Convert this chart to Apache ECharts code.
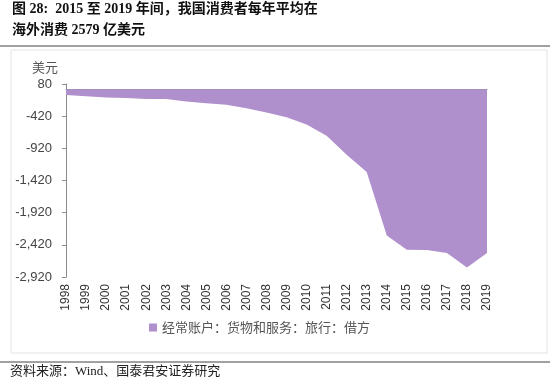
<!DOCTYPE html>
<html><head><meta charset="utf-8">
<script src="https://cdn.jsdelivr.net/npm/echarts@6/dist/echarts.min.js"></script>
<style>html,body{margin:0;padding:0;background:#fff}#c{width:550px;height:383px}</style>
</head><body><div id="c"></div>
<script>
var categories = ['1998','1999','2000','2001','2002','2003','2004','2005','2006','2007','2008','2009','2010','2011','2012','2013','2014','2015','2016','2017','2018','2019'];
var travelDebit = [-92,-109,-131,-139,-154,-152,-191,-218,-243,-298,-362,-437,-549,-726,-1020,-1286,-2273,-2498,-2500,-2548,-2773,-2546];
var seriesName = '经常账户：货物和服务：旅行：借方';
var yMin = -2920, yMax = 80, yStep = 500;

var chart = echarts.init(document.getElementById('c'));
var cjk = '"Liberation Serif","Noto Sans CJK SC",serif';
chart.setOption({
  animation: false,
  grid: {left: 66, right: 63, top: 84, bottom: 106},
  graphic: [
    {type: 'text', left: 12, top: 2, style: {text: '图 28:  2015 至 2019 年间，我国消费者每年平均在', font: 'bold 14px ' + cjk, fill: '#111'}},
    {type: 'text', left: 12, top: 23, style: {text: '海外消费 2579 亿美元', font: 'bold 14px ' + cjk, fill: '#111'}},
    {type: 'line', shape: {x1: 0, y1: 46, x2: 550, y2: 46}, style: {stroke: '#444', lineWidth: 1.2}},
    {type: 'rect', shape: {x: 11, y: 50, width: 536, height: 303}, style: {fill: 'none', stroke: '#e4e4e4', lineWidth: 1}},
    {type: 'line', shape: {x1: 0, y1: 362, x2: 550, y2: 362}, style: {stroke: '#444', lineWidth: 1}},
    {type: 'text', left: 10, top: 365, style: {text: '资料来源：Wind、国泰君安证券研究', font: '13px ' + cjk, fill: '#222'}}
  ],
  legend: {
    left: 144, top: 316, itemWidth: 8, itemHeight: 8, icon: 'rect', itemGap: 4,
    textStyle: {fontSize: 13, color: '#555', fontFamily: '"Noto Sans CJK SC",sans-serif'},
    data: [seriesName]
  },
  xAxis: [{
    type: 'category', data: categories, boundaryGap: false, position: 'bottom',
    axisLine: {show: false, onZero: false}, axisTick: {show: false},
    axisLabel: {rotate: 90, fontSize: 12, color: '#333', margin: 7, fontFamily: '"Liberation Sans",sans-serif'}
  }, {
    type: 'category', data: categories, boundaryGap: false, position: 'top',
    axisLine: {show: true, onZero: true, lineStyle: {color: '#8a8a8a', width: 1}},
    axisTick: {show: true, inside: true, length: 3, lineStyle: {color: '#8a8a8a'}},
    axisLabel: {show: false}
  }],
  yAxis: {
    type: 'value', min: yMin, max: yMax, interval: yStep,
    name: '美元', nameLocation: 'end', nameGap: 10,
    nameTextStyle: {fontSize: 13, color: '#555', align: 'right', padding: [0, 8, 0, 0], fontFamily: '"Noto Sans CJK SC",sans-serif'},
    axisLine: {show: true, lineStyle: {color: '#8a8a8a'}},
    axisTick: {show: true, length: 4, lineStyle: {color: '#8a8a8a'}},
    splitLine: {show: false},
    axisLabel: {fontSize: 13, color: '#444', margin: 14, fontFamily: '"Liberation Sans",sans-serif',
      formatter: function (v) { return v.toLocaleString('en-US'); }}
  },
  series: [{
    name: seriesName, type: 'line', data: travelDebit, xAxisIndex: 0,
    symbol: 'none', lineStyle: {width: 0}, itemStyle: {color: '#AF8FCC'},
    areaStyle: {color: '#AF8FCC', opacity: 1, origin: 0}
  }]
});
</script></body></html>
